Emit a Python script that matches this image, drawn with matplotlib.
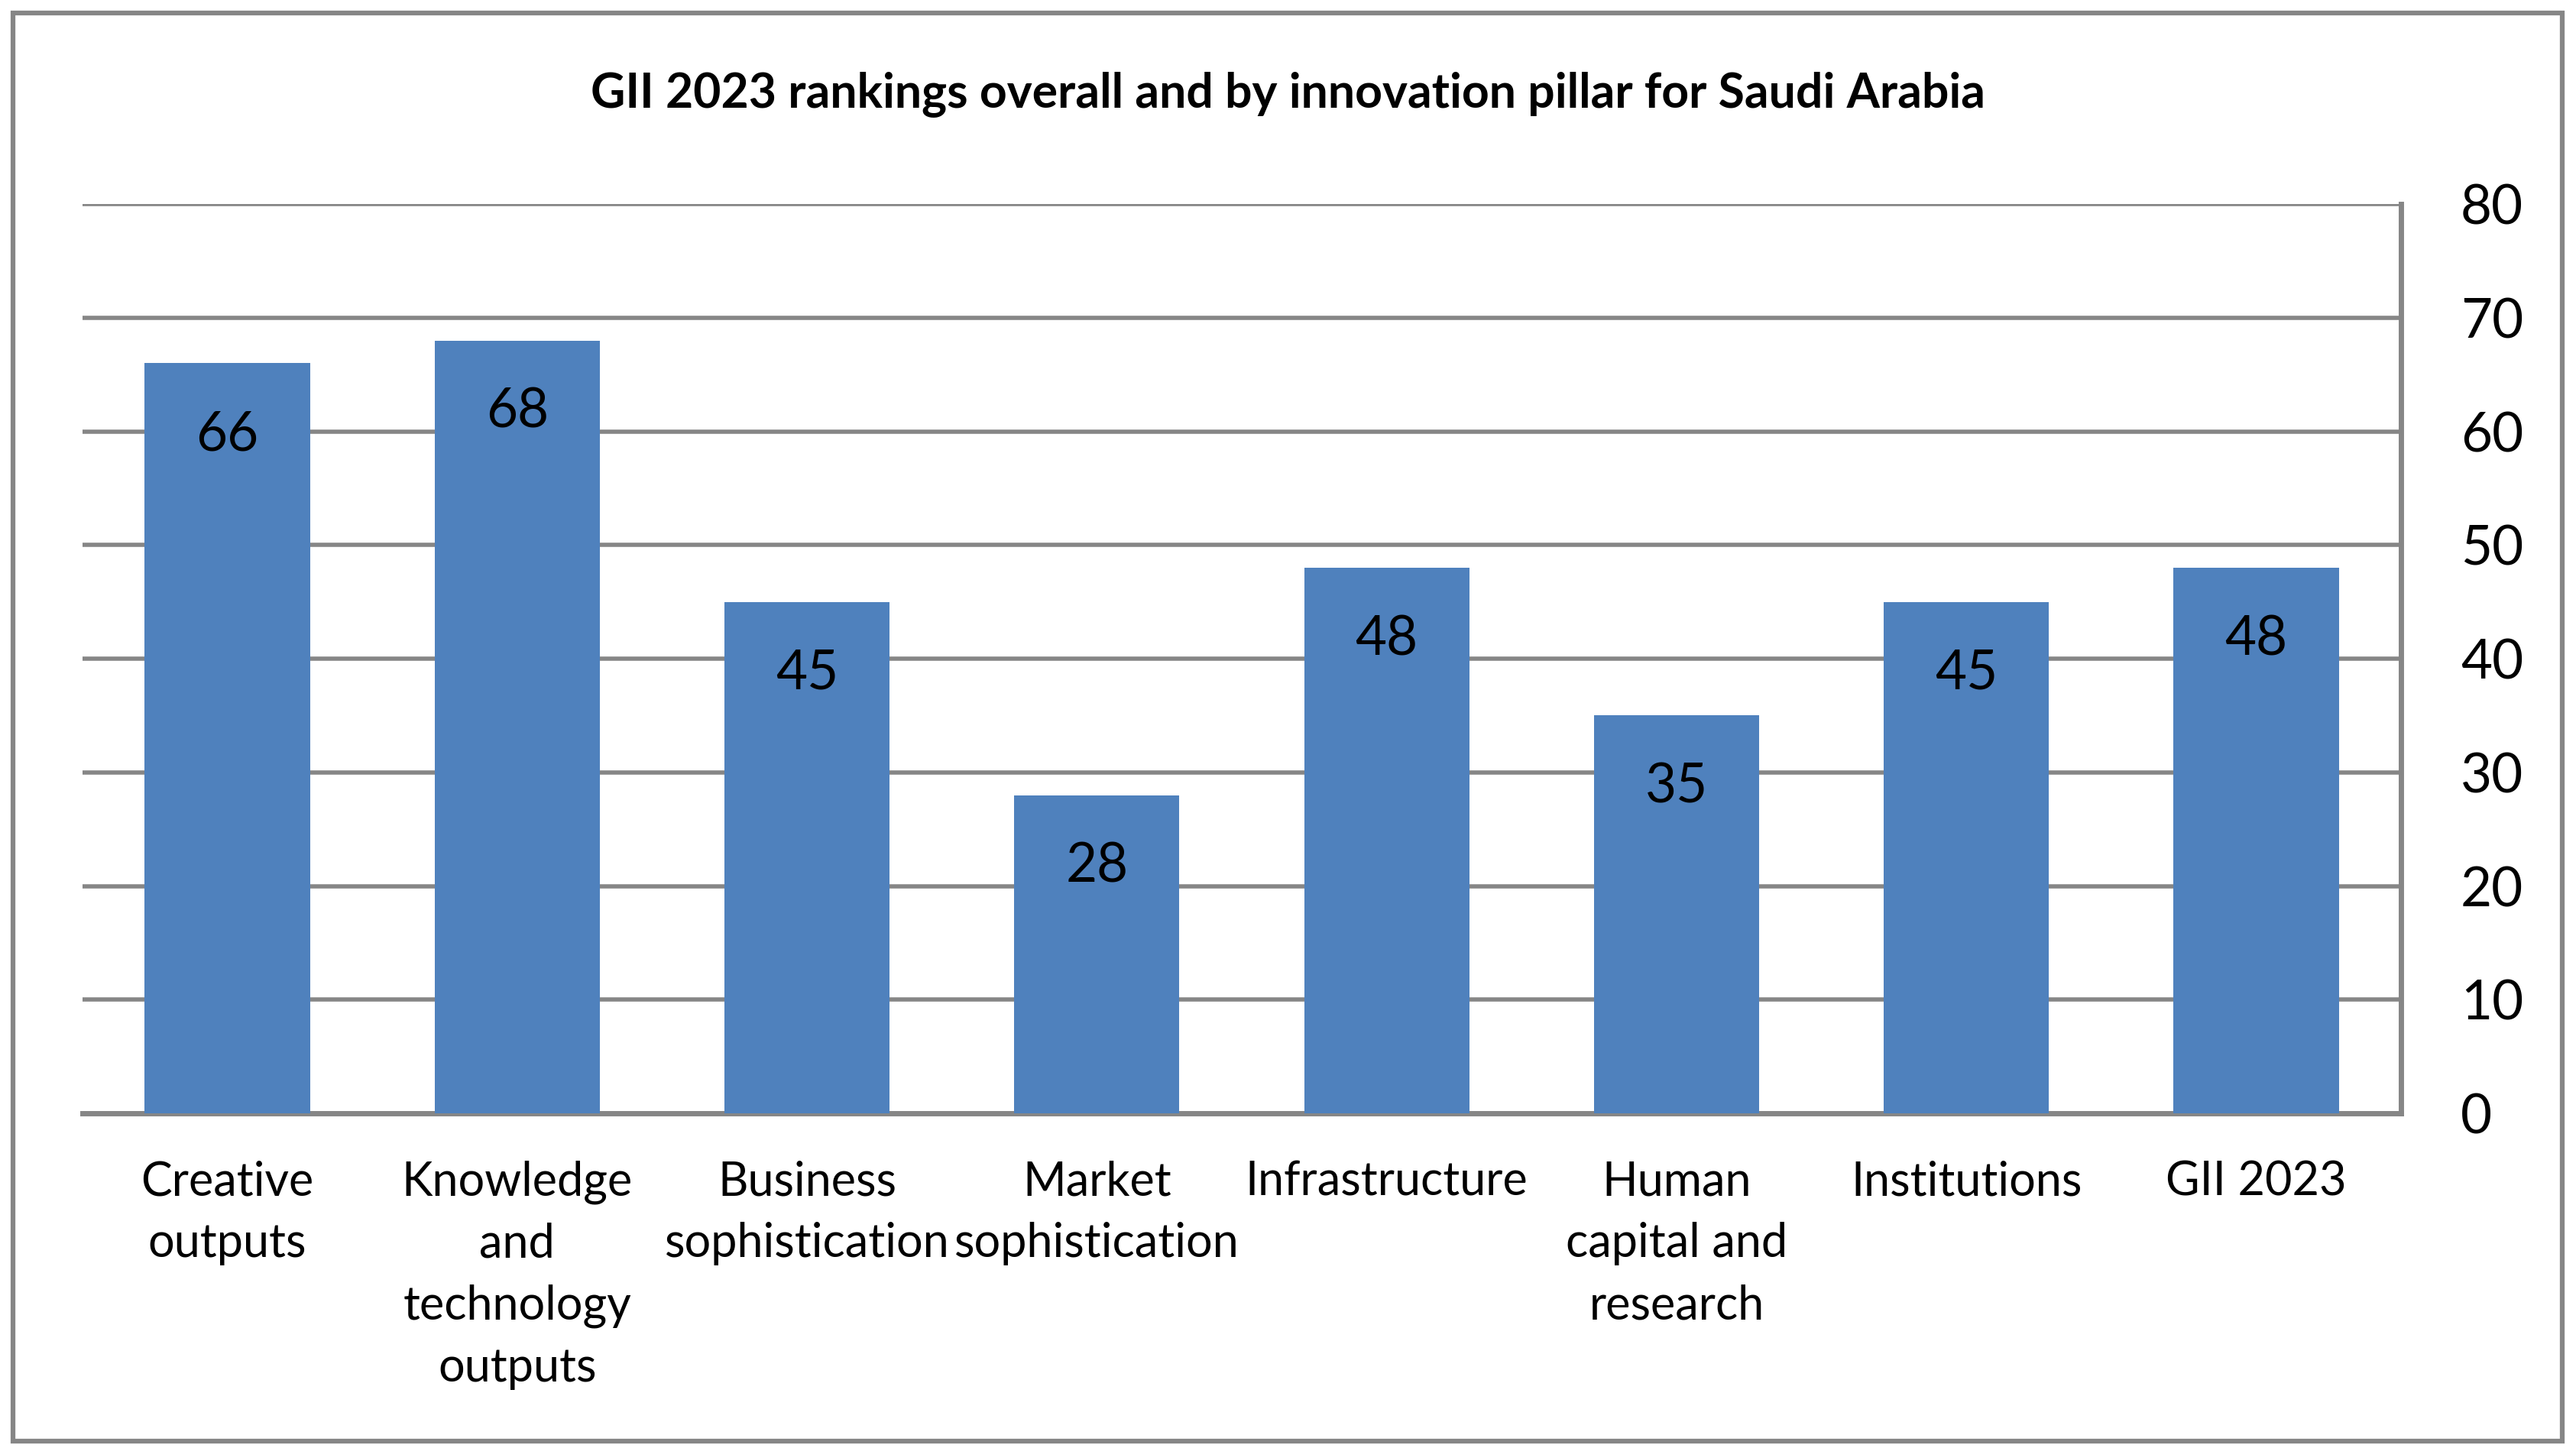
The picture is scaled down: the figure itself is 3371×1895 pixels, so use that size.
import matplotlib
matplotlib.use('Agg')
import matplotlib.pyplot as plt
from matplotlib.patches import Rectangle

# GII 2023 rankings for Saudi Arabia
categories = ['Creative\noutputs', 'Knowledge\nand\ntechnology\noutputs',
              'Business\nsophistication', 'Market\nsophistication',
              'Infrastructure', 'Human\ncapital and\nresearch',
              'Institutions', 'GII 2023']
ranks = [66, 68, 45, 28, 48, 35, 45, 48]
y_ticks = [0, 10, 20, 30, 40, 50, 60, 70, 80]
title = 'GII 2023 rankings overall and by innovation pillar for Saudi Arabia'

BAR_COLOR = '#4F81BD'
GRID_COLOR = '#868686'

plt.rcParams['font.family'] = ['Lato', 'DejaVu Sans']

fig = plt.figure(figsize=(33.71, 18.95), dpi=100)
ax = fig.add_axes([0.0320, 0.2311, 0.9001, 0.628])

x = range(len(categories))
bars = ax.bar(x, ranks, width=0.57, color=BAR_COLOR, zorder=3)

for xi, v in zip(x, ranks):
    ax.text(xi, v - 6.3, str(v), ha='center', va='center', fontsize=51,
            color='black', zorder=4)

ax.set_xlim(-0.5, len(categories) - 0.5)
ax.set_ylim(0, 80)
ax.set_yticks(y_ticks)
ax.yaxis.tick_right()
ax.tick_params(axis='y', length=0, pad=56, labelsize=51)
for lbl in ax.get_yticklabels():
    lbl.set_horizontalalignment('left')
ax.set_xticks(list(x))
ax.set_xticklabels(categories, fontsize=44, linespacing=1.52)
ax.tick_params(axis='x', length=0, pad=44)

ax.grid(axis='y', color=GRID_COLOR, linewidth=4, zorder=0)
for side in ['top', 'left']:
    ax.spines[side].set_visible(False)
ax.spines['bottom'].set_color(GRID_COLOR)
ax.spines['bottom'].set_linewidth(5)
ax.spines['right'].set_color(GRID_COLOR)
ax.spines['right'].set_linewidth(5)

fig.text(0.5, 1 - 123 / 1895, title, ha='center', va='center',
         fontsize=45, fontweight='bold')

# outer chart frame
fig.patches.append(Rectangle((17 / 3371, 9 / 1895), 3336 / 3371, 1869 / 1895,
                             transform=fig.transFigure, fill=False,
                             edgecolor=GRID_COLOR, linewidth=4.5))

fig.savefig('out.png', dpi=100)
